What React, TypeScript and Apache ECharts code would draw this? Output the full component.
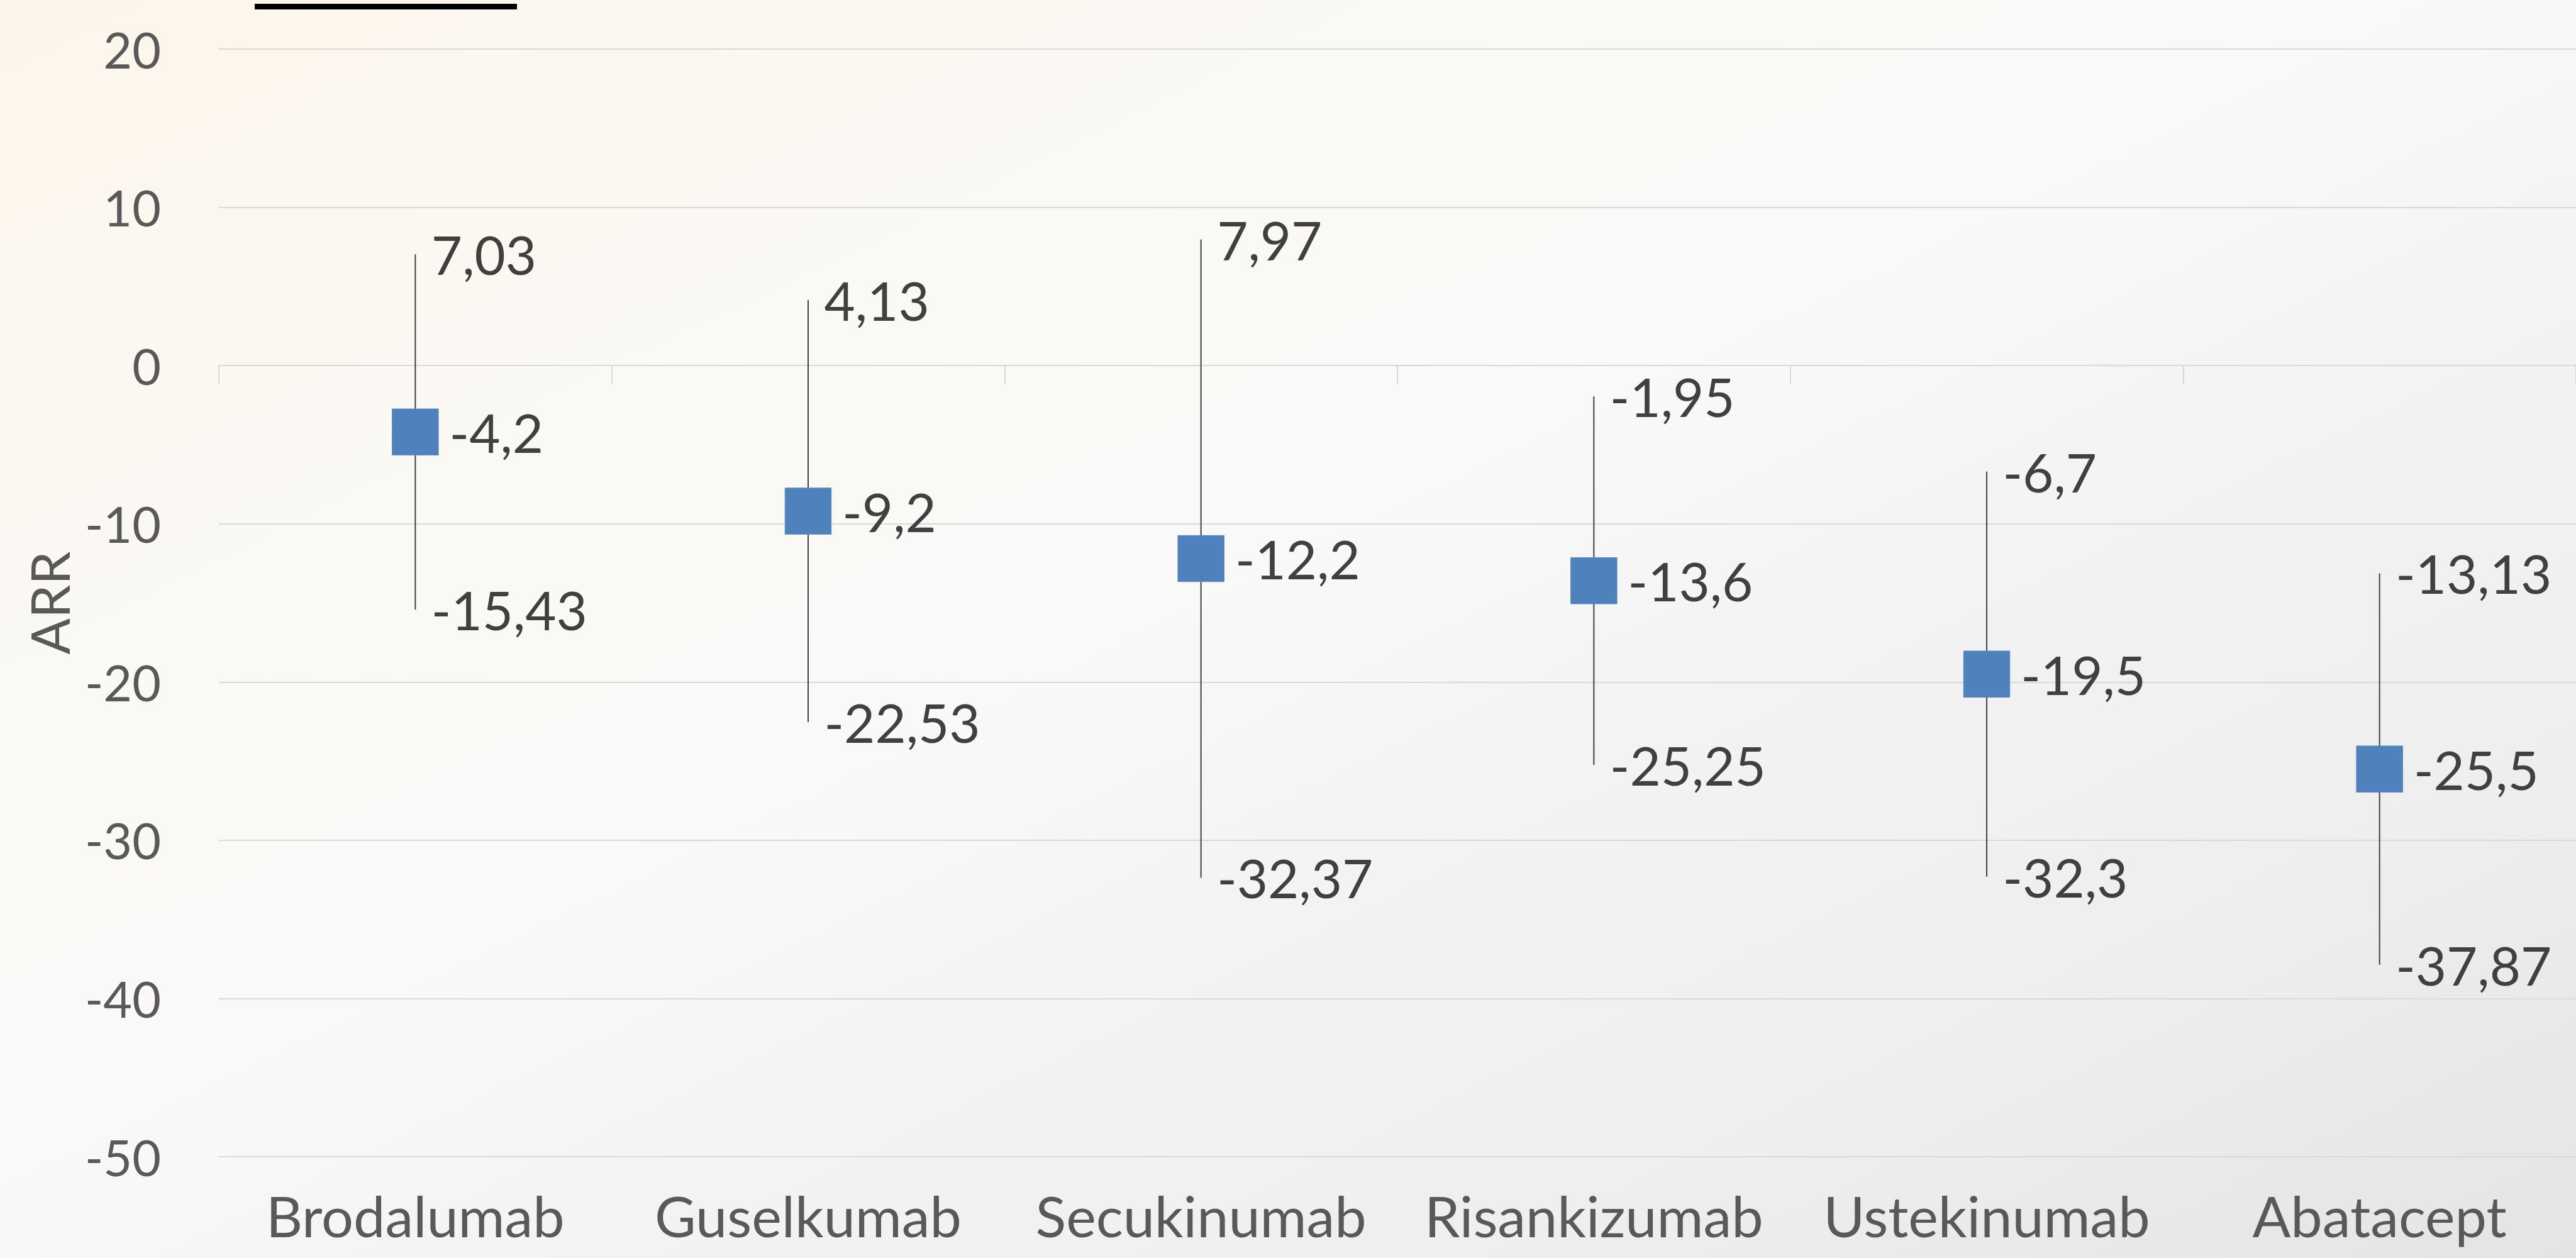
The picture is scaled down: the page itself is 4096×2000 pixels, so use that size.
import React, { useEffect, useRef } from "react";
import * as echarts from "echarts";

const categories = ["Brodalumab", "Guselkumab", "Secukinumab", "Risankizumab", "Ustekinumab", "Abatacept"];
const pointValues = [-4.2, -9.2, -12.2, -13.6, -19.5, -25.5];
const highValues = [7.03, 4.13, 7.97, -1.95, -6.7, -13.13];
const lowValues = [-15.43, -22.53, -32.37, -25.25, -32.3, -37.87];
const yTicks = { min: -50, max: 20, interval: 10 };
const yAxisName = "ARR";

const FONT = "Lato";
const FS_TICK = 79;
const FS_CAT = 90;
const FS_DATA = 85;
const fmt = (v: number) => String(v).replace(".", ",");

const dataLabel = (distance: number) => ({
  show: true,
  position: "right",
  distance,
  color: "#404040",
  fontFamily: FONT,
  fontSize: FS_DATA,
  formatter: (p: any) => fmt(p.value),
});

export default function App() {
  const ref = useRef<HTMLDivElement>(null);
  useEffect(() => {
    if (!ref.current) return;
    const chart = echarts.init(ref.current, undefined, { renderer: "svg" });
    const whiskerData = categories.map((_, i) => [i, highValues[i], lowValues[i]]);
    chart.setOption({
      animation: false,
      textStyle: { fontFamily: FONT },
      graphic: [
        {
          type: "rect",
          z: -100,
          silent: true,
          shape: { x: 0, y: 0, width: 4096, height: 2000 },
          style: {
            fill: new echarts.graphic.LinearGradient(0, 0, 1, 1, [
              { offset: 0, color: "#FDF5EA" },
              { offset: 0.19, color: "#FBF8F2" },
              { offset: 0.42, color: "#FAF9F7" },
              { offset: 0.5, color: "#F8F8F8" },
              { offset: 0.58, color: "#F4F4F4" },
              { offset: 0.8, color: "#EEEEEE" },
              { offset: 1, color: "#E4E4E4" },
            ]),
          },
        },
        {
          type: "rect",
          silent: true,
          shape: { x: 405, y: 6, width: 417, height: 9 },
          style: { fill: "#000000" },
        },
      ],
      grid: { left: 348, top: 78, width: 3762, height: 1761, containLabel: false },
      xAxis: [
        {
          type: "category",
          data: categories,
          position: "bottom",
          boundaryGap: true,
          axisLine: { show: true, onZero: true, lineStyle: { color: "#D9D9D9", width: 2 } },
          axisTick: { show: true, length: 30, lineStyle: { color: "#D9D9D9", width: 2 } },
          axisLabel: { show: false },
          splitLine: { show: false },
        },
        {
          type: "category",
          data: categories,
          position: "bottom",
          boundaryGap: true,
          axisLine: { show: false, onZero: false },
          axisTick: { show: false },
          splitLine: { show: false },
          axisLabel: {
            show: true,
            interval: 0,
            color: "#595959",
            fontFamily: FONT,
            fontSize: FS_CAT,
            lineHeight: 90,
            margin: 48,
          },
        },
      ],
      yAxis: {
        type: "value",
        min: yTicks.min,
        max: yTicks.max,
        interval: yTicks.interval,
        name: yAxisName,
        nameLocation: "middle",
        nameGap: 228,
        nameTextStyle: { color: "#595959", fontFamily: FONT, fontSize: 85 },
        axisLine: { show: false },
        axisTick: { show: false },
        axisLabel: { color: "#595959", fontFamily: FONT, fontSize: FS_TICK, margin: 92 },
        splitLine: { show: true, lineStyle: { color: "#D9D9D9", width: 2 } },
      },
      series: [
        {
          type: "custom",
          xAxisIndex: 0,
          data: whiskerData,
          encode: { x: 0, y: [1, 2] },
          z: 2,
          renderItem: (params: any, api: any) => {
            const top = api.coord([api.value(0), api.value(1)]);
            const bot = api.coord([api.value(0), api.value(2)]);
            return {
              type: "line",
              shape: { x1: top[0], y1: top[1], x2: bot[0], y2: bot[1] },
              style: { stroke: "#404040", lineWidth: 2 },
            };
          },
        },
        {
          type: "scatter",
          xAxisIndex: 0,
          data: highValues,
          symbol: "circle",
          symbolSize: 1,
          itemStyle: { color: "transparent", opacity: 1 },
          z: 3,
          label: dataLabel(25),
        },
        {
          type: "scatter",
          xAxisIndex: 0,
          data: lowValues,
          symbol: "circle",
          symbolSize: 1,
          itemStyle: { color: "transparent", opacity: 1 },
          z: 3,
          label: dataLabel(25),
        },
        {
          type: "scatter",
          xAxisIndex: 0,
          data: pointValues,
          symbol: "rect",
          symbolSize: 73.5,
          itemStyle: { color: "#4F81BD", opacity: 1, borderColor: "#5A8AC6", borderWidth: 1 },
          z: 4,
          label: dataLabel(17),
        },
      ],
    });
    return () => chart.dispose();
  }, []);
  return (
    <div
      ref={ref}
      style={{ position: "absolute", left: 0, top: 0, width: 4096, height: 2000 }}
    />
  );
}
